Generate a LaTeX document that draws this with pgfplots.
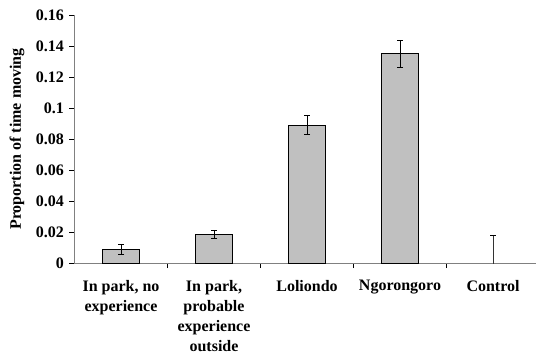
\documentclass[border=0pt]{standalone}
\usepackage{pgfplots}
\pgfplotsset{compat=1.18}
\usepackage{fontspec}
\setmainfont{Liberation Serif}
\definecolor{barfill}{RGB}{192,192,192}
\definecolor{axgray}{RGB}{128,128,128}
\begin{document}
\begin{tikzpicture}
\begin{axis}[
  at={(0,0)}, anchor=south west,
  scale only axis, width=461.5bp, height=248bp,
  xmin=-0.5, xmax=4.462, ymin=0, ymax=0.16,
  axis x line=bottom, axis y line=left,
  axis line style={-, draw=axgray, line width=1pt},
  ytick={0,0.02,0.04,0.06,0.08,0.1,0.12,0.14,0.16},
  yticklabels={0,0.02,0.04,0.06,0.08,0.1,0.12,0.14,0.16},
  xtick={0,1,2,3,4},
  xticklabels={{In park, no\\experience},{In park,\\probable\\experience\\outside},{Loliondo},{Ngorongoro},{Control}},
  minor xtick={0.5,1.5,2.5,3.5},
  tick align=outside, major tick length=5bp, minor tick length=5bp,
  major x tick style={draw=none},
  tick style={black, line width=0.7pt},
  yticklabel style={font=\bfseries\fontsize{16bp}{19.5bp}\selectfont, xshift=-2bp},
  xticklabel style={font=\bfseries\fontsize{16bp}{20bp}\selectfont, align=center, anchor=north, yshift=-9bp},
  ylabel={Proportion of time moving},
  every axis y label/.style={at={(axis description cs:0,0.5)}, xshift=-57.5bp, rotate=90, anchor=center, font=\bfseries\fontsize{16bp}{19.5bp}\selectfont},
]
\addplot[ybar, bar width=37.3bp, fill=barfill, draw=black, line width=0.8pt,
  error bars/.cd, y dir=both, y explicit,
  error bar style={black, line width=0.8pt},
  error mark options={rotate=90, mark size=3bp, black, line width=0.8pt}]
  coordinates {
  (0,0.0088) +- (0,0.0033)
  (1,0.0184) +- (0,0.0025)
  (2,0.0890) +- (0,0.0060)
  (3,0.1350) +- (0,0.0088)
};
\addplot[draw=none, mark=none,
  error bars/.cd, y dir=both, y explicit,
  error bar style={draw=black!80, line width=1pt},
  error mark options={rotate=90, mark size=3bp, draw=black, line width=0.8pt}]
  coordinates {(4,0) +- (0,0.0179)};
\end{axis}
\pgfresetboundingbox
\useasboundingbox (-74.5bp,-93bp) rectangle (461.5bp,263bp);
\end{tikzpicture}
\end{document}
